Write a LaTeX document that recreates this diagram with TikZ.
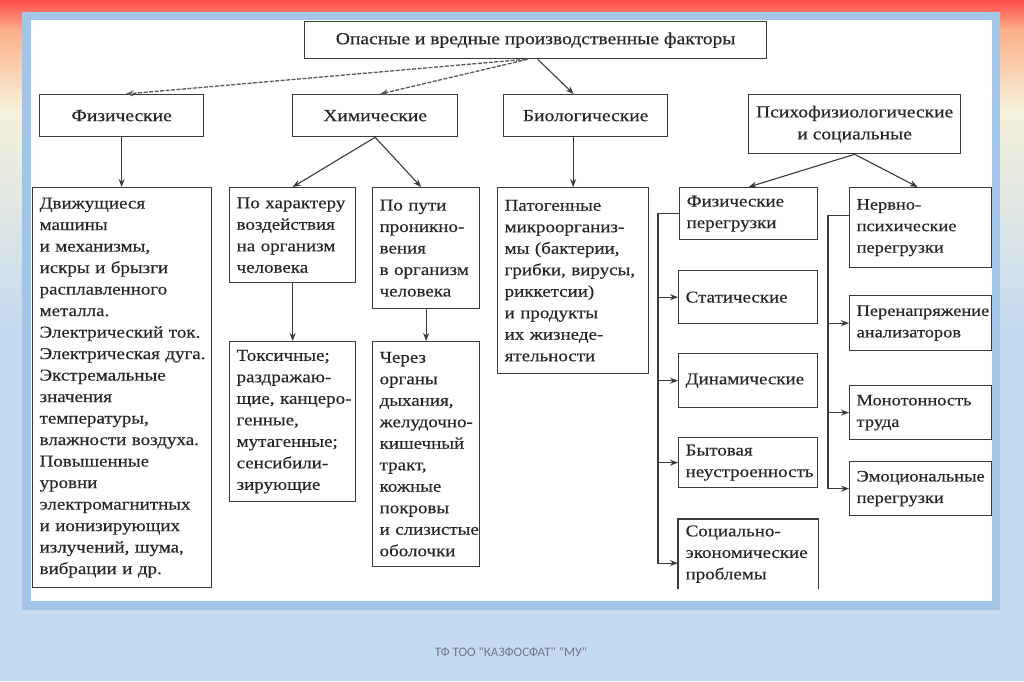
\documentclass[tikz,border=0pt]{standalone}
\usepackage{fontspec}
\setmainfont{Liberation Serif}[FakeStretch=1.15, FakeBold=0.3]
\newfontfamily\footfont{Carlito}
\usetikzlibrary{arrows.meta, positioning}
\exhyphenpenalty=10000
\definecolor{bgred}{HTML}{FF4B4B}
\definecolor{bgorange}{HTML}{FDB08A}
\definecolor{bgcream}{HTML}{F5F1DA}
\definecolor{bgblue}{HTML}{C5DAF0}
\definecolor{framecol}{HTML}{A3C5E8}
\definecolor{linecol}{HTML}{3A3A3A}
\tikzset{
    box/.style={rectangle, draw=linecol, line width=1.3pt, anchor=north west, align=left, inner xsep=7pt, text=black!85, font=\fontsize{16.5}{21.5}\selectfont},
    smallbox/.style={box, font=\fontsize{16}{21.5}\selectfont},
    head/.style={box, align=center, font=\fontsize{17}{22}\selectfont},
    arrow/.style={draw=linecol, line width=1.1pt, -{Stealth[length=8pt, width=6pt]}},
    dasharrow/.style={arrow, draw=gray!70!black, line width=1.3pt, dash pattern=on 4pt off 1.5pt}
}

\begin{document}
\begin{tikzpicture}[x=1pt, y=-1pt]
    % slide background
    \useasboundingbox (0,0) rectangle (1024,681);
    \shade[top color=bgred, bottom color=bgorange] (0,0) rectangle (1024,30);
    \shade[top color=bgorange, bottom color=bgcream] (0,30) rectangle (1024,110);
    \shade[top color=bgcream, bottom color=bgblue] (0,110) rectangle (1024,330);
    \fill[bgblue] (0,330) rectangle (1024,681);
    \fill[framecol] (22,12) rectangle (1000,610);
    \fill[white] (31,20) rectangle (992,601);

    % first level
    \node (top) [head, minimum width=462, minimum height=37] at (304,21) {Опасные и вредные производственные факторы};
    \node (phys) [head, minimum width=164, minimum height=42] at (39,94) {Физические};
    \node (chem) [head, minimum width=165, minimum height=42] at (292,94) {Химические};
    \node (bio) [head, minimum width=164, minimum height=42] at (503,94) {Биологические};
    \node (psych) [head, minimum width=212, minimum height=59] at (748,94) {Психофизиологические\\и социальные};

    % second level
    \node (moving) [box, minimum height=400, text width=165] at (32,187) {Движущиеся\\машины\\и~механизмы,\\искры~и~брызги\\расплавленного\\металла.\\Электрический~ток.\\Электрическая~дуга.\\Экстремальные\\значения\\температуры,\\влажности~воздуха.\\Повышенные\\уровни\\электромагнитных\\и~ионизирующих\\излучений,~шума,\\вибрации~и~др.};
    \node (impact) [box, minimum height=95, text width=112] at (229,187) {По~характеру\\воздействия\\на~организм\\человека};
    \node (toxic) [box, minimum height=160, text width=112] at (229,341) {Токсичные;\\раздражаю-\\щие,~канцеро-\\генные,\\мутагенные;\\сенсибили-\\зирующие};
    \node (route) [box, minimum height=121, text width=93] at (372,187) {По~пути\\проникно-\\вения\\в~организм\\человека};
    \node (through) [box, minimum height=225, text width=93] at (372,341) {Через\\органы\\дыхания,\\желудочно-\\кишечный\\тракт,\\кожные\\покровы\\и~слизистые\\оболочки};
    \node (patho) [box, minimum height=186, text width=137] at (497,187) {Патогенные\\микроорганиз-\\мы~(бактерии,\\грибки,~вирусы,\\риккетсии)\\и~продукты\\их~жизнеде-\\ятельности};

    % psychophysiological branch
    \node (physover) [box, minimum height=52, text width=124] at (679,187) {Физические\\перегрузки};
    \node (static) [box, minimum height=53, text width=125] at (678,270) {Статические};
    \node (dynamic) [box, minimum height=54, text width=125] at (678,353) {Динамические};
    \node (domestic) [box, minimum height=50, text width=125] at (678,437) {Бытовая\\неустроенность};
    \node (socio) [box, draw=none, minimum height=69, text width=125] at (678,519) {Социально-\\экономические\\проблемы};
    \draw[linecol, line width=1.3pt] (socio.south west) -- (socio.north west) -- (socio.north east) -- (socio.south east);
    \node (nervous) [smallbox, minimum height=80, text width=128] at (849,187) {Нервно-\\психические\\перегрузки};
    \node (strain) [smallbox, minimum height=55, text width=128] at (849,295) {Перенапряжение\\анализаторов};
    \node (monot) [smallbox, minimum height=54, text width=128] at (849,385) {Монотонность\\труда};
    \node (emot) [smallbox, minimum height=54, text width=128] at (849,461) {Эмоциональные\\перегрузки};

    % connectors
    \draw[dasharrow] ([xshift=-10pt]top.south) -- ([xshift=4pt]phys.north);
    \draw[dasharrow] ([xshift=-8pt]top.south) -- ([xshift=5pt]chem.north);
    \draw[arrow] ([xshift=2pt]top.south) -- ([xshift=-12pt]bio.north);
    \draw[arrow] (phys.south) -- (phys.south |- moving.north);
    \draw[arrow] (chem.south) -- (impact.north);
    \draw[arrow] (chem.south) -- ([xshift=-5pt]route.north);
    \draw[arrow] (patho.north |- bio.south) -- (patho.north);
    \draw[arrow] (impact.south) -- (toxic.north);
    \draw[arrow] (route.south) -- (through.north);
    \draw[arrow] (psych.south) -- (physover.north);
    \draw[arrow] (psych.south) -- ([xshift=-3pt]nervous.north);

    \coordinate (lbus) at ([xshift=-21pt]physover.west);
    \draw[arrow] (physover.west) -- (lbus) |- ([yshift=-9pt]socio.west);
    \foreach \n in {static, dynamic, domestic}
        \draw[arrow] (lbus |- \n.west) -- (\n.west);

    \coordinate (rbus) at ([xshift=-21pt, yshift=12pt]nervous.west);
    \draw[arrow] ([yshift=12pt]nervous.west) -- (rbus) |- (emot.west);
    \foreach \n in {strain, monot}
        \draw[arrow] (rbus |- \n.west) -- (\n.west);

    % footer
    \node (foot) [text=gray!90!blue, font=\footfont\fontsize{13}{15}\selectfont] at (511,652) {ТФ ТОО "КАЗФОСФАТ" "МУ"};
\end{tikzpicture}
\end{document}
